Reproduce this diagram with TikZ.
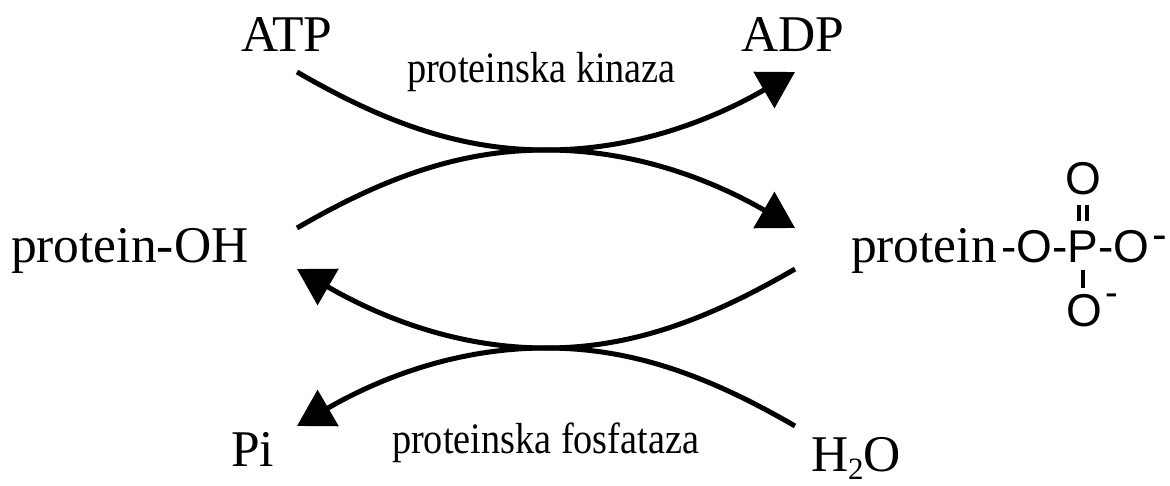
\documentclass[tikz,border=0pt]{standalone}
\usepackage{fontspec}
\setmainfont{Liberation Serif}
\setsansfont{Liberation Sans}
\newfontfamily\narrowserif[FakeStretch=0.88]{Liberation Serif}
\usetikzlibrary{arrows.meta}
\tikzset{
  big/.style={font=\fontsize{51.5}{60}\selectfont, inner sep=0pt, outer sep=0pt, anchor=base west},
  enz/.style={font=\narrowserif\fontsize{43.5}{50}\selectfont, inner sep=0pt, outer sep=0pt, anchor=base west},
  chem/.style={font=\sffamily\fontsize{46}{54}\selectfont, inner sep=0pt, outer sep=0pt},
  charge/.style={font=\sffamily\fontsize{38}{44}\selectfont, inner sep=0pt, outer sep=0pt},
  rxn/.style={line width=5pt, -{Triangle[length=36pt,width=41pt]}},
  bond/.style={line width=3.5pt},
}
\begin{document}
\begin{tikzpicture}[x=1pt,y=-1pt]
\useasboundingbox (0,0) rectangle (1170,486);
\fill[white] (0,0) rectangle (1170,486);
% labels
\node[big] (atp) at (241,52) {ATP};
\node[big] (adp) at (741,52) {ADP};
\node[enz] (kin) at (407,83) {proteinska kinaza};
\node[big] (poh) at (11,263) {protein-OH};
\node[big] (prot) at (851,263) {protein};
\node[chem, anchor=base west] (ph1) at (1001,263) {-O-};
\node[chem, anchor=base west] (P) at (ph1.base east) {P};
\node[chem, anchor=base west] (ph2) at (P.base east) {-O};
\node[charge, font=\sffamily\fontsize{44}{50}\selectfont] (m1) at (1160,243) {-};
\node[chem, anchor=base] (otop) at (1083.5,194.5) {O};
\node[chem, anchor=base] (obot) at (1084,326.5) {O};
\node[charge] (m2) at (1112,300) {-};
\node[big] (pi) at (231,466) {Pi};
\node[enz] (fos) at (392,453) {proteinska fosfataza};
\node[big] (h2o) at (811,471) {H\raisebox{-8pt}{\fontsize{31}{31}\selectfont 2}O};
% bonds
\draw[bond, shorten <=10pt, shorten >=10pt] ([xshift=-4pt]P.north) -- ([xshift=-4pt]P.north |- otop.south);
\draw[bond, shorten <=10pt, shorten >=10pt] ([xshift=4pt]P.north) -- ([xshift=4pt]P.north |- otop.south);
\draw[bond, shorten <=7pt, shorten >=6pt] (P.south) -- (P.south |- obot.north);
% reaction ends and meeting points
\coordinate (k1s) at (297,72);
\coordinate (k1e) at (795,72);
\coordinate (k2s) at (297,228);
\coordinate (k2e) at (795,228);
\coordinate (km) at (546,150);
\coordinate (f1s) at (795,269);
\coordinate (f1e) at (297,269);
\coordinate (f2s) at (795,426);
\coordinate (f2e) at (297,426);
\coordinate (fm) at (546,348);
\draw[rxn] (k1s) .. controls (379,119.5) and (456,150) .. (km)
                 .. controls (636,150) and (713,119.5) .. (k1e);
\draw[rxn] (k2s) .. controls (379,180.5) and (456,150) .. (km)
                 .. controls (636,150) and (713,180.5) .. (k2e);
\draw[rxn] (f1s) .. controls (713,316.5) and (636,348) .. (fm)
                 .. controls (456,348) and (379,316.5) .. (f1e);
\draw[rxn] (f2s) .. controls (713,378.5) and (636,348) .. (fm)
                 .. controls (456,348) and (379,378.5) .. (f2e);
\end{tikzpicture}
\end{document}
